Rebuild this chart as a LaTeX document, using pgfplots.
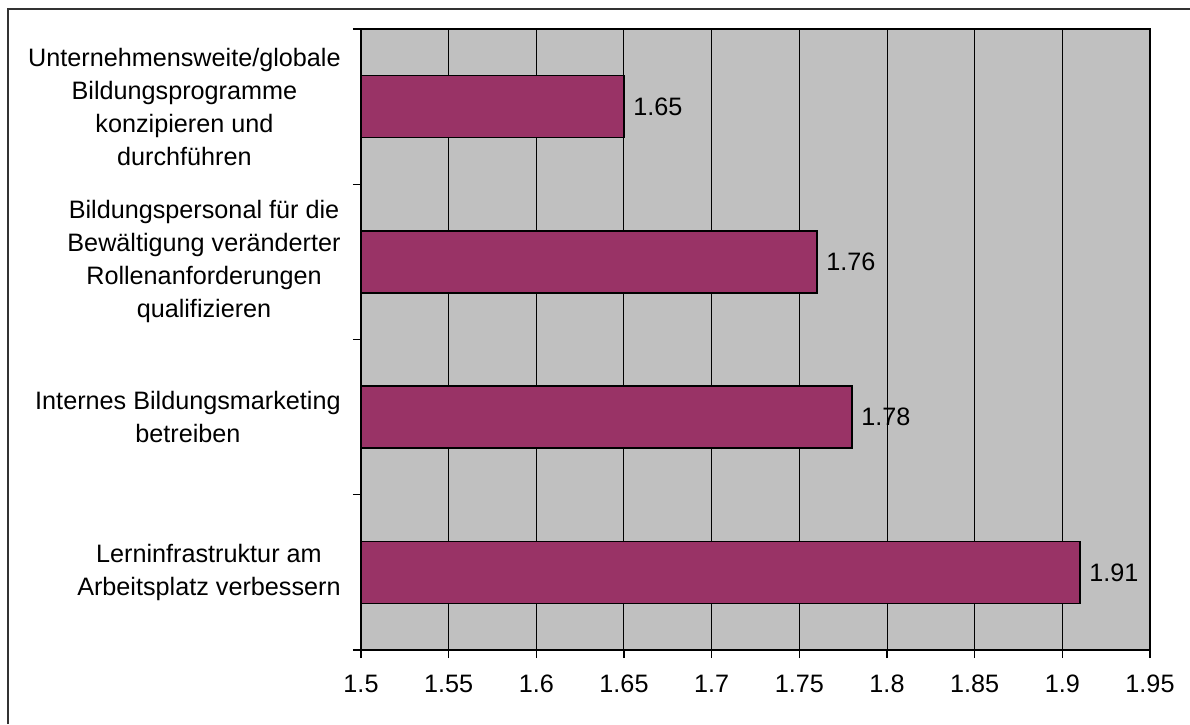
\documentclass[border=0pt]{standalone}
\usepackage{pgfplots}
\pgfplotsset{compat=1.18}
\usepackage{fontspec}
\setmainfont{Liberation Sans}
\definecolor{barc}{HTML}{993366}
\definecolor{bgc}{HTML}{C0C0C0}
\definecolor{framec}{HTML}{333333}
\begin{document}
\begin{tikzpicture}
\useasboundingbox (0,0) rectangle (595pt,362pt);
\draw[framec, line width=1pt] (4pt,0) -- (4pt,357.5pt) -- (595pt,357.5pt);
\begin{axis}[
  at={(180.5pt,37pt)}, anchor=south west,
  scale only axis, width=394.5pt, height=310.5pt,
  font=\fontsize{12.6}{16.5}\selectfont,
  /pgf/number format/assume math mode=true,
  xbar, bar width=31pt, bar shift=0pt,
  xmin=1.5, xmax=1.95,
  xtick={1.5,1.55,1.6,1.65,1.7,1.75,1.8,1.85,1.9,1.95},
  xticklabels={1.5,1.55,1.6,1.65,1.7,1.75,1.8,1.85,1.9,1.95},
  xticklabel style={yshift=-5pt},
  xtick pos=bottom, ytick pos=left,
  xmajorgrids, grid style={black, line width=0.5pt},
  y dir=reverse, ymin=-0.5, ymax=3.5,
  ytick={-0.5,0.5,1.5,2.5,3.5}, yticklabels={},
  extra y ticks={0,1,2,3},
  extra y tick labels={{Unternehmensweite/globale\\Bildungsprogramme\\konzipieren und\\durchführen},
    {Bildungspersonal für die\\Bewältigung veränderter\\Rollenanforderungen\\qualifizieren},
    {Internes Bildungsmarketing\\betreiben},
    {Lerninfrastruktur am\\Arbeitsplatz verbessern}},
  extra y tick style={major tick length=0pt, grid=none,
    yticklabel style={align=center, inner sep=0pt, xshift=-10pt}},
  tick align=outside, major tick length=4pt,
  tick style={black, line width=0.6pt},
  axis line style={black, line width=0.9pt},
  axis background/.style={fill=bgc},
  nodes near coords, point meta=explicit symbolic,
  every node near coord/.append style={anchor=west, xshift=1pt, font=\fontsize{12.6}{14}\selectfont, black},
  clip=false,
]
\addplot[fill=barc, draw=black, line width=0.8pt] table[meta=lab] {
x y lab
1.65 0 1.65
1.76 1 1.76
1.78 2 1.78
1.91 3 1.91
};
\end{axis}
\end{tikzpicture}
\end{document}
